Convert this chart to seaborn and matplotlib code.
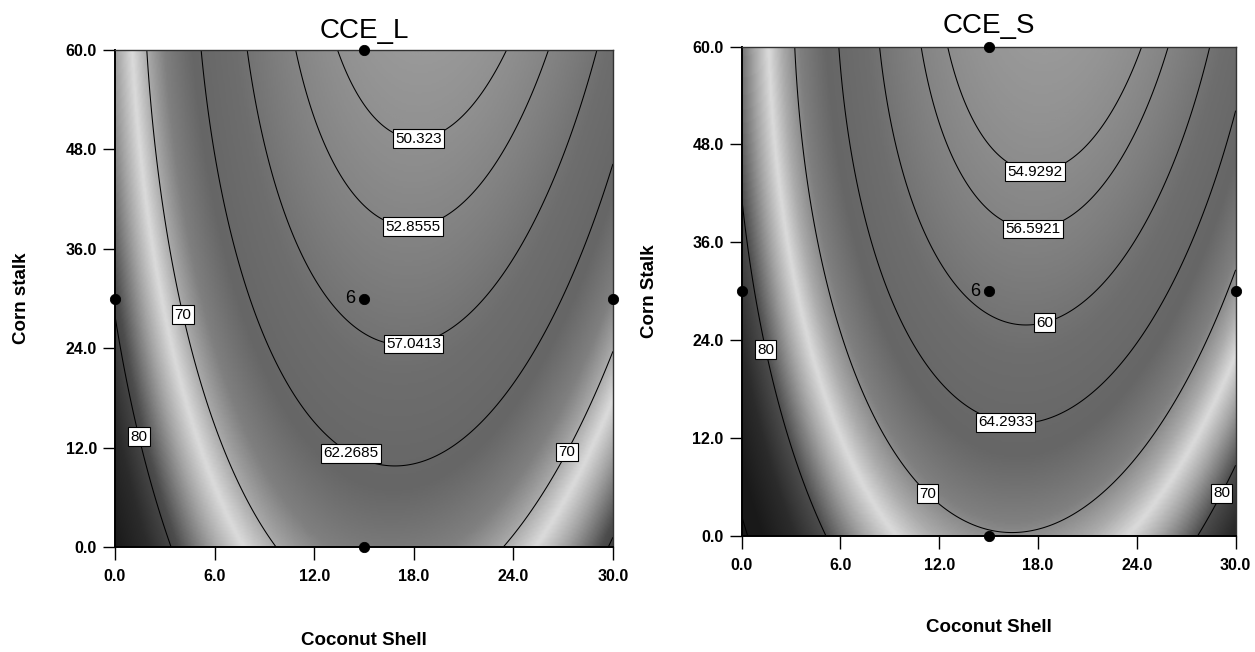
import numpy as np
import matplotlib
matplotlib.use('Agg')
import matplotlib.pyplot as plt
from matplotlib.colors import LinearSegmentedColormap
import seaborn as sns

# quadratic response surface models
# order: b0, b1*shell, b2*stalk, b11*shell^2, b22*stalk^2, b12*shell*stalk
coef_l = [87.94, -2.615, -0.3486, 0.0790, 0.002303, -0.005135]
coef_s = [90.91, -2.526, -0.382, 0.0770, 0.002871, -0.005128]

levels_l = [50.323, 52.8555, 57.0413, 62.2685, 70, 80]
texts_l = ['50.323', '52.8555', '57.0413', '62.2685', '70', '80']
levels_s = [54.9292, 56.5921, 60, 64.2933, 70, 80, 90]
texts_s = ['54.9292', '56.5921', '60', '64.2933', '70', '80']

# design points (coconut shell, corn stalk)
shell_pts = [15, 0, 30, 15, 15]
stalk_pts = [60, 30, 30, 30, 0]
center_runs = '6'

xticks = [0, 6, 12, 18, 24, 30]
yticks = [0, 12, 24, 36, 48, 60]

# where the contour labels sit
lab_pos_l = [(18.3, 48.4), (18.0, 37.3), (18.0, 24.2), (14.2, 11.3),
             (4.0, 28.0), (27.1, 11.6), (1.4, 13.3)]
lab_pos_s = [(17.8, 45.0), (17.7, 37.8), (18.3, 26.8), (16.1, 15.0),
             (11.5, 5.6), (1.8, 23.0), (28.8, 5.6)]

sns.set_theme(style='white')
plt.rcParams['font.family'] = ['Liberation Sans', 'DejaVu Sans']
plt.rcParams['text.color'] = 'black'
plt.rcParams['axes.labelcolor'] = 'black'
plt.rcParams['xtick.color'] = 'black'
plt.rcParams['ytick.color'] = 'black'

# grayscale rendering of the original colour ramp
gray_nodes = [(0.0, 0.60), (0.10, 0.53), (0.25, 0.43), (0.38, 0.40), (0.48, 0.50),
              (0.55, 0.67), (0.61, 0.86), (0.68, 0.64), (0.78, 0.30), (0.88, 0.17),
              (1.0, 0.10)]
cmap = LinearSegmentedColormap.from_list('de_gray', [(t, (g, g, g)) for t, g in gray_nodes])


def surface(coef, x, y):
    b0, b1, b2, b11, b22, b12 = coef
    return b0 + b1 * x + b2 * y + b11 * x ** 2 + b22 * y ** 2 + b12 * x * y


def panel(ax, coef, levels, texts, positions, title, ylabel, title_pad):
    xs = np.linspace(0, 30, 301)
    ys = np.linspace(0, 60, 301)
    X, Y = np.meshgrid(xs, ys)
    Z = surface(coef, X, Y)
    ax.imshow(Z, origin='lower', extent=[0, 30, 0, 60], aspect='auto', cmap=cmap,
              vmin=Z.min(), vmax=88, interpolation='bilinear')
    cs = ax.contour(X, Y, Z, levels=levels, colors='black', linewidths=0.75)
    fmt = dict(zip(levels[:len(texts)], texts))
    lbls = ax.clabel(cs, levels=levels[:len(texts)], fmt=fmt, manual=positions,
                     inline=False, fontsize=11)
    for t in lbls:
        t.set_rotation(0)
        t.set_color('black')
        t.set_bbox(dict(boxstyle='square,pad=0.15', fc='white', ec='black', lw=0.8))

    sns.scatterplot(x=shell_pts, y=stalk_pts, ax=ax, color='black', s=55,
                    edgecolor='black', clip_on=False, zorder=10, legend=False)
    ax.annotate(center_runs, (shell_pts[3], stalk_pts[3]), xytext=(-10, 0),
                textcoords='offset points', ha='center', va='center', fontsize=13)

    ax.set_xlim(0, 30)
    ax.set_ylim(0, 60)
    ax.set_xticks(xticks)
    ax.set_yticks(yticks)
    ax.set_xticklabels([f'{v:.1f}' for v in xticks])
    ax.set_yticklabels([f'{v:.1f}' for v in yticks])
    ax.tick_params(axis='both', direction='out', length=9, width=1.0, color='black',
                   left=True, bottom=True, labelsize=11.5)
    ax.tick_params(axis='x', pad=7)
    ax.tick_params(axis='y', pad=4)
    for lab in ax.get_xticklabels() + ax.get_yticklabels():
        lab.set_fontweight('bold')
    for side in ['left', 'bottom']:
        ax.spines[side].set_linewidth(1.4)
        ax.spines[side].set_color('black')
    for side in ['top', 'right']:
        ax.spines[side].set_linewidth(1.0)
        ax.spines[side].set_color('#333333')

    ax.set_title(title, fontsize=20, pad=title_pad)
    ax.set_xlabel('Coconut Shell', fontsize=13.5, fontweight='bold')
    ax.set_ylabel(ylabel, fontsize=13.5, fontweight='bold')
    ax.xaxis.set_label_coords(0.5, -0.17)
    ax.yaxis.set_label_coords(-0.17, 0.5)


fig = plt.figure(figsize=(12.55, 6.52), dpi=100)
ax1 = fig.add_axes([0.0916, 0.161, 0.3968, 0.7623])
ax2 = fig.add_axes([0.591, 0.178, 0.3936, 0.7505])

panel(ax1, coef_l, levels_l, texts_l, lab_pos_l, 'CCE_L', 'Corn stalk', 8.5)
panel(ax2, coef_s, levels_s, texts_s, lab_pos_s, 'CCE_S', 'Corn Stalk', 10)

fig.savefig('out.png', dpi=100)
